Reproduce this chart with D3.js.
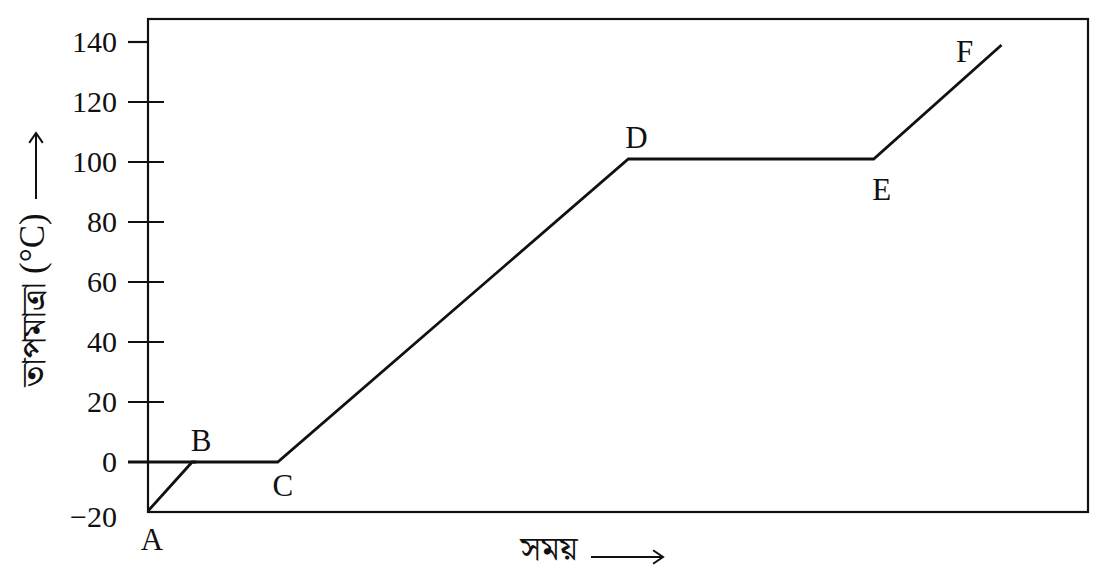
<!DOCTYPE html>
<html>
<head>
<meta charset="utf-8">
<script src="https://cdn.jsdelivr.net/npm/d3@7"></script>
<style>
  body { margin: 0; background: #fff; }
  text { font-family: "Liberation Serif", "Times New Roman", serif; fill: #111; }
  .bn { font-family: "Noto Serif Bengali", "Noto Sans Bengali", "Lohit Bengali", "Liberation Serif", serif; }
</style>
</head>
<body>
<script>
// heating curve: time (arbitrary units) vs temperature
var points = ["A", "B", "C", "D", "E", "F"];
var times = [0, 4.7, 13.8, 51.1, 77.2, 90.8];
var temps = [-20, 0, 0, 101, 101, 139];
var yTicks = [-20, 0, 20, 40, 60, 80, 100, 120, 140];

var width = 1110,
  height = 580;

var x = d3.scaleLinear().domain([0, 100]).range([148, 1088]);
// bottom band (-20..0) is drawn a bit squashed in the original
var y = d3.scaleLinear().domain([-20, 0, 140]).range([511, 462, 42]);

var svg = d3
  .select("body")
  .append("svg")
  .attr("width", width)
  .attr("height", height);

// frame
svg
  .append("rect")
  .attr("x", 148)
  .attr("y", 19)
  .attr("width", 940)
  .attr("height", 493)
  .attr("fill", "none")
  .attr("stroke", "#111")
  .attr("stroke-width", 2.2);

// y axis labels
var axis = d3
  .axisLeft(y)
  .tickValues(yTicks)
  .tickSize(0)
  .tickPadding(0)
  .tickFormat(function(d) {
    return d < 0 ? "\u2212" + Math.abs(d) : d;
  });

var gy = svg.append("g").attr("transform", "translate(117,0)").call(axis);
gy.select(".domain").remove();
gy.selectAll("text")
  .attr("font-family", "Liberation Serif")
  .attr("font-size", 30)
  .attr("fill", "#111")
  .attr("dy", function(d) {
    return d < 0 ? "0.5em" : "0.32em";
  });

// tick marks cross the axis, 140 only outside
svg
  .selectAll(".tick-line")
  .data(yTicks.filter(function(d) { return d >= 0; }))
  .enter()
  .append("line")
  .attr("class", "tick-line")
  .attr("x1", 128)
  .attr("x2", function(d) {
    if (d === 140) return 148;
    if (d === 0) return x(times[1]) + 4;
    return 164;
  })
  .attr("y1", function(d) { return y(d); })
  .attr("y2", function(d) { return y(d); })
  .attr("stroke", "#111")
  .attr("stroke-width", function(d) { return d === 0 ? 3 : 2.2; });

// the curve
var data = times.map(function(t, i) {
  return { name: points[i], t: t, v: temps[i] };
});

var line = d3
  .line()
  .x(function(d) { return x(d.t); })
  .y(function(d) { return y(d.v); });

svg
  .append("path")
  .datum(data)
  .attr("d", line)
  .attr("fill", "none")
  .attr("stroke", "#111")
  .attr("stroke-width", 2.8)
  .attr("stroke-linejoin", "miter");

// point letters
var offsets = {
  A: [4, 32], B: [9, -18], C: [5, 27], D: [8, -18], E: [8, 34], F: [-37, 10]
};
svg
  .selectAll(".pt")
  .data(data)
  .enter()
  .append("text")
  .attr("class", "pt")
  .attr("x", function(d) { return x(d.t) + offsets[d.name][0]; })
  .attr("y", function(d) { return y(d.v) + offsets[d.name][1]; })
  .attr("text-anchor", "middle")
  .attr("dominant-baseline", "middle")
  .attr("font-size", 31)
  .text(function(d) { return d.name; });

// arrows
function arrow(x1, y1, x2, y2) {
  var a = Math.atan2(y2 - y1, x2 - x1),
    h = 12;
  svg.append("line")
    .attr("x1", x1).attr("y1", y1).attr("x2", x2).attr("y2", y2)
    .attr("stroke", "#111").attr("stroke-width", 2);
  svg.append("path")
    .attr("d", "M" + (x2 - h * Math.cos(a - 0.6)) + "," + (y2 - h * Math.sin(a - 0.6)) +
      "L" + x2 + "," + y2 +
      "L" + (x2 - h * Math.cos(a + 0.6)) + "," + (y2 - h * Math.sin(a + 0.6)))
    .attr("fill", "none").attr("stroke", "#111").attr("stroke-width", 2);
}

// x title
svg
  .append("text")
  .attr("class", "bn")
  .attr("x", 549)
  .attr("y", 551)
  .attr("text-anchor", "middle")
  .attr("dominant-baseline", "middle")
  .attr("font-size", 34)
  .text("সময়");
arrow(591, 557, 663, 557);

// y title
var yt = svg
  .append("text")
  .attr("transform", "translate(36,300) rotate(-90)")
  .attr("text-anchor", "middle")
  .attr("dominant-baseline", "middle");
yt.append("tspan").attr("class", "bn").attr("font-size", 34).text("তাপমাত্রা ");
yt.append("tspan").attr("font-size", 35).text("(°C)");
arrow(36, 199, 36, 133);
</script>
</body>
</html>
